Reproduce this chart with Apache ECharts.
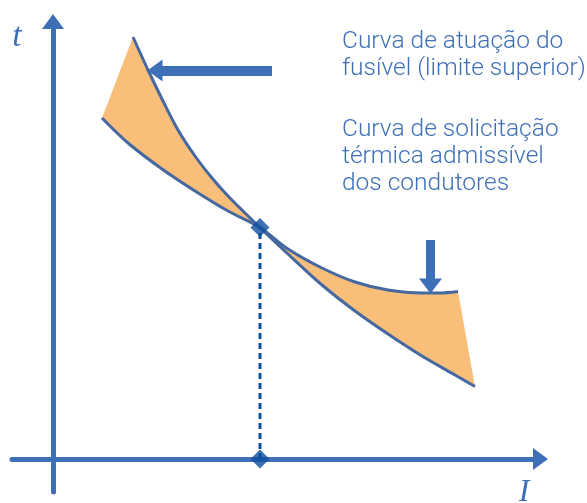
<!DOCTYPE html>
<html><head><meta charset="utf-8">
<script src="https://cdn.jsdelivr.net/npm/echarts@6/dist/echarts.min.js"></script>
<style>html,body{margin:0;padding:0;background:#fff}#c{width:587px;height:503px}</style>
</head><body><div id="c"></div>
<script>
// Fuse operating curve (upper limit) – I vs t, in diagram units
const fuseCurve = [[80,422],[95,389],[109,360],[125,329],[142,303],[159,281],[175,263],[192,246],[207,231.5],[235,205],[269,174],[302,148],[335,125],[369,103],[402,84],[422,72.5]];
// Conductor admissible thermal curve
const thermalCurve = [[49,341],[75,316],[109,290],[142,268],[175,248],[207,231.5],[235,210],[269,191],[302,177],[335,169],[369,166],[387,166],[405,167.5]];
const crossing = [207,231.5];
const crossingOnAxis = [207,0];
const xRange = [-41, 487.5];
const yRange = [-33, 437.5];
const fuseArrow = [[219,388.5],[102,388.5]];
const thermalArrow = [[377.5,219],[377.5,173]];
const fuseLabel = ['Curva de atuação do', 'fusível (limite superior)'];
const thermalLabel = ['Curva de solicitação', 'térmica admissível', 'dos condutores'];
const axisNames = ['I', 't'];

const BLUE = '#3E70B8';
const DARK = '#0E4E9E';
const CURVE = '#44689F';
const FILL = '#F9BE7A';
const TXT = '#3F70B6';

const chart = echarts.init(document.getElementById('c'), null, {renderer:'canvas'});
const axisCommon = {
  type: 'value',
  axisLine: {show: true, onZero: true, symbol: ['none','triangle'], symbolSize: [22,15], lineStyle: {color: BLUE, width: 5}},
  axisTick: {show: false}, axisLabel: {show: false}, splitLine: {show: false}
};
const labelFont = {fontFamily: 'Roboto', fontWeight: 300, fontSize: 24.5, lineHeight: 27, fill: TXT};
chart.setOption({
  animation: false,
  backgroundColor: '#fff',
  grid: {left: 12, right: 46.5, top: 21.5, bottom: 11},
  xAxis: Object.assign({}, axisCommon, {min: xRange[0], max: xRange[1]}),
  yAxis: Object.assign({}, axisCommon, {min: yRange[0], max: yRange[1]}),
  graphic: [
    {type: 'text', x: 342, y: 28.5, style: Object.assign({text: fuseLabel.join('\n')}, labelFont)},
    {type: 'text', x: 342, y: 116.5, style: Object.assign({text: thermalLabel.join('\n')}, labelFont)},
    {type: 'text', x: 17, y: 37, style: {text: axisNames[1], fontFamily: 'Liberation Serif', fontStyle: 'italic', fontSize: 34, fill: TXT, align: 'center', verticalAlign: 'middle'}},
    {type: 'text', x: 524, y: 493, style: {text: axisNames[0], fontFamily: 'Liberation Serif', fontStyle: 'italic', fontSize: 32, fill: TXT, align: 'center', verticalAlign: 'middle'}}
  ],
  series: [
    {
      type: 'custom', z: 1, silent: true,
      data: [[0,0]],
      renderItem: function (params, api) {
        const pts = fuseCurve.map(p => api.coord(p)).concat(thermalCurve.slice().reverse().map(p => api.coord(p)));
        return {type: 'polygon', shape: {points: pts}, style: {fill: FILL}};
      }
    },
    {
      type: 'line', z: 3, data: fuseCurve, symbol: 'none', smooth: 0.3,
      lineStyle: {color: CURVE, width: 3},
      markLine: {
        silent: true, symbol: ['none','triangle'], symbolSize: [22,15], label: {show: false},
        lineStyle: {color: BLUE, width: 10, type: 'solid'},
        data: [[{coord: fuseArrow[0]}, {coord: fuseArrow[1]}]]
      }
    },
    {
      type: 'line', z: 3, data: thermalCurve, symbol: 'none', smooth: 0.3,
      lineStyle: {color: CURVE, width: 3},
      markLine: {
        silent: true, symbol: ['none','triangle'], symbolSize: [23,15], label: {show: false},
        lineStyle: {color: BLUE, width: 9, type: 'solid'},
        data: [[{coord: thermalArrow[0]}, {coord: thermalArrow[1]}]]
      }
    },
    {
      type: 'line', z: 4, data: [crossingOnAxis, crossing], symbol: 'none',
      lineStyle: {color: DARK, width: 3, type: [6,4]}
    },
    {
      type: 'scatter', z: 5, data: [crossing, crossingOnAxis], symbol: 'diamond', symbolSize: 19,
      itemStyle: {color: DARK}
    }
  ]
});
</script></body></html>
